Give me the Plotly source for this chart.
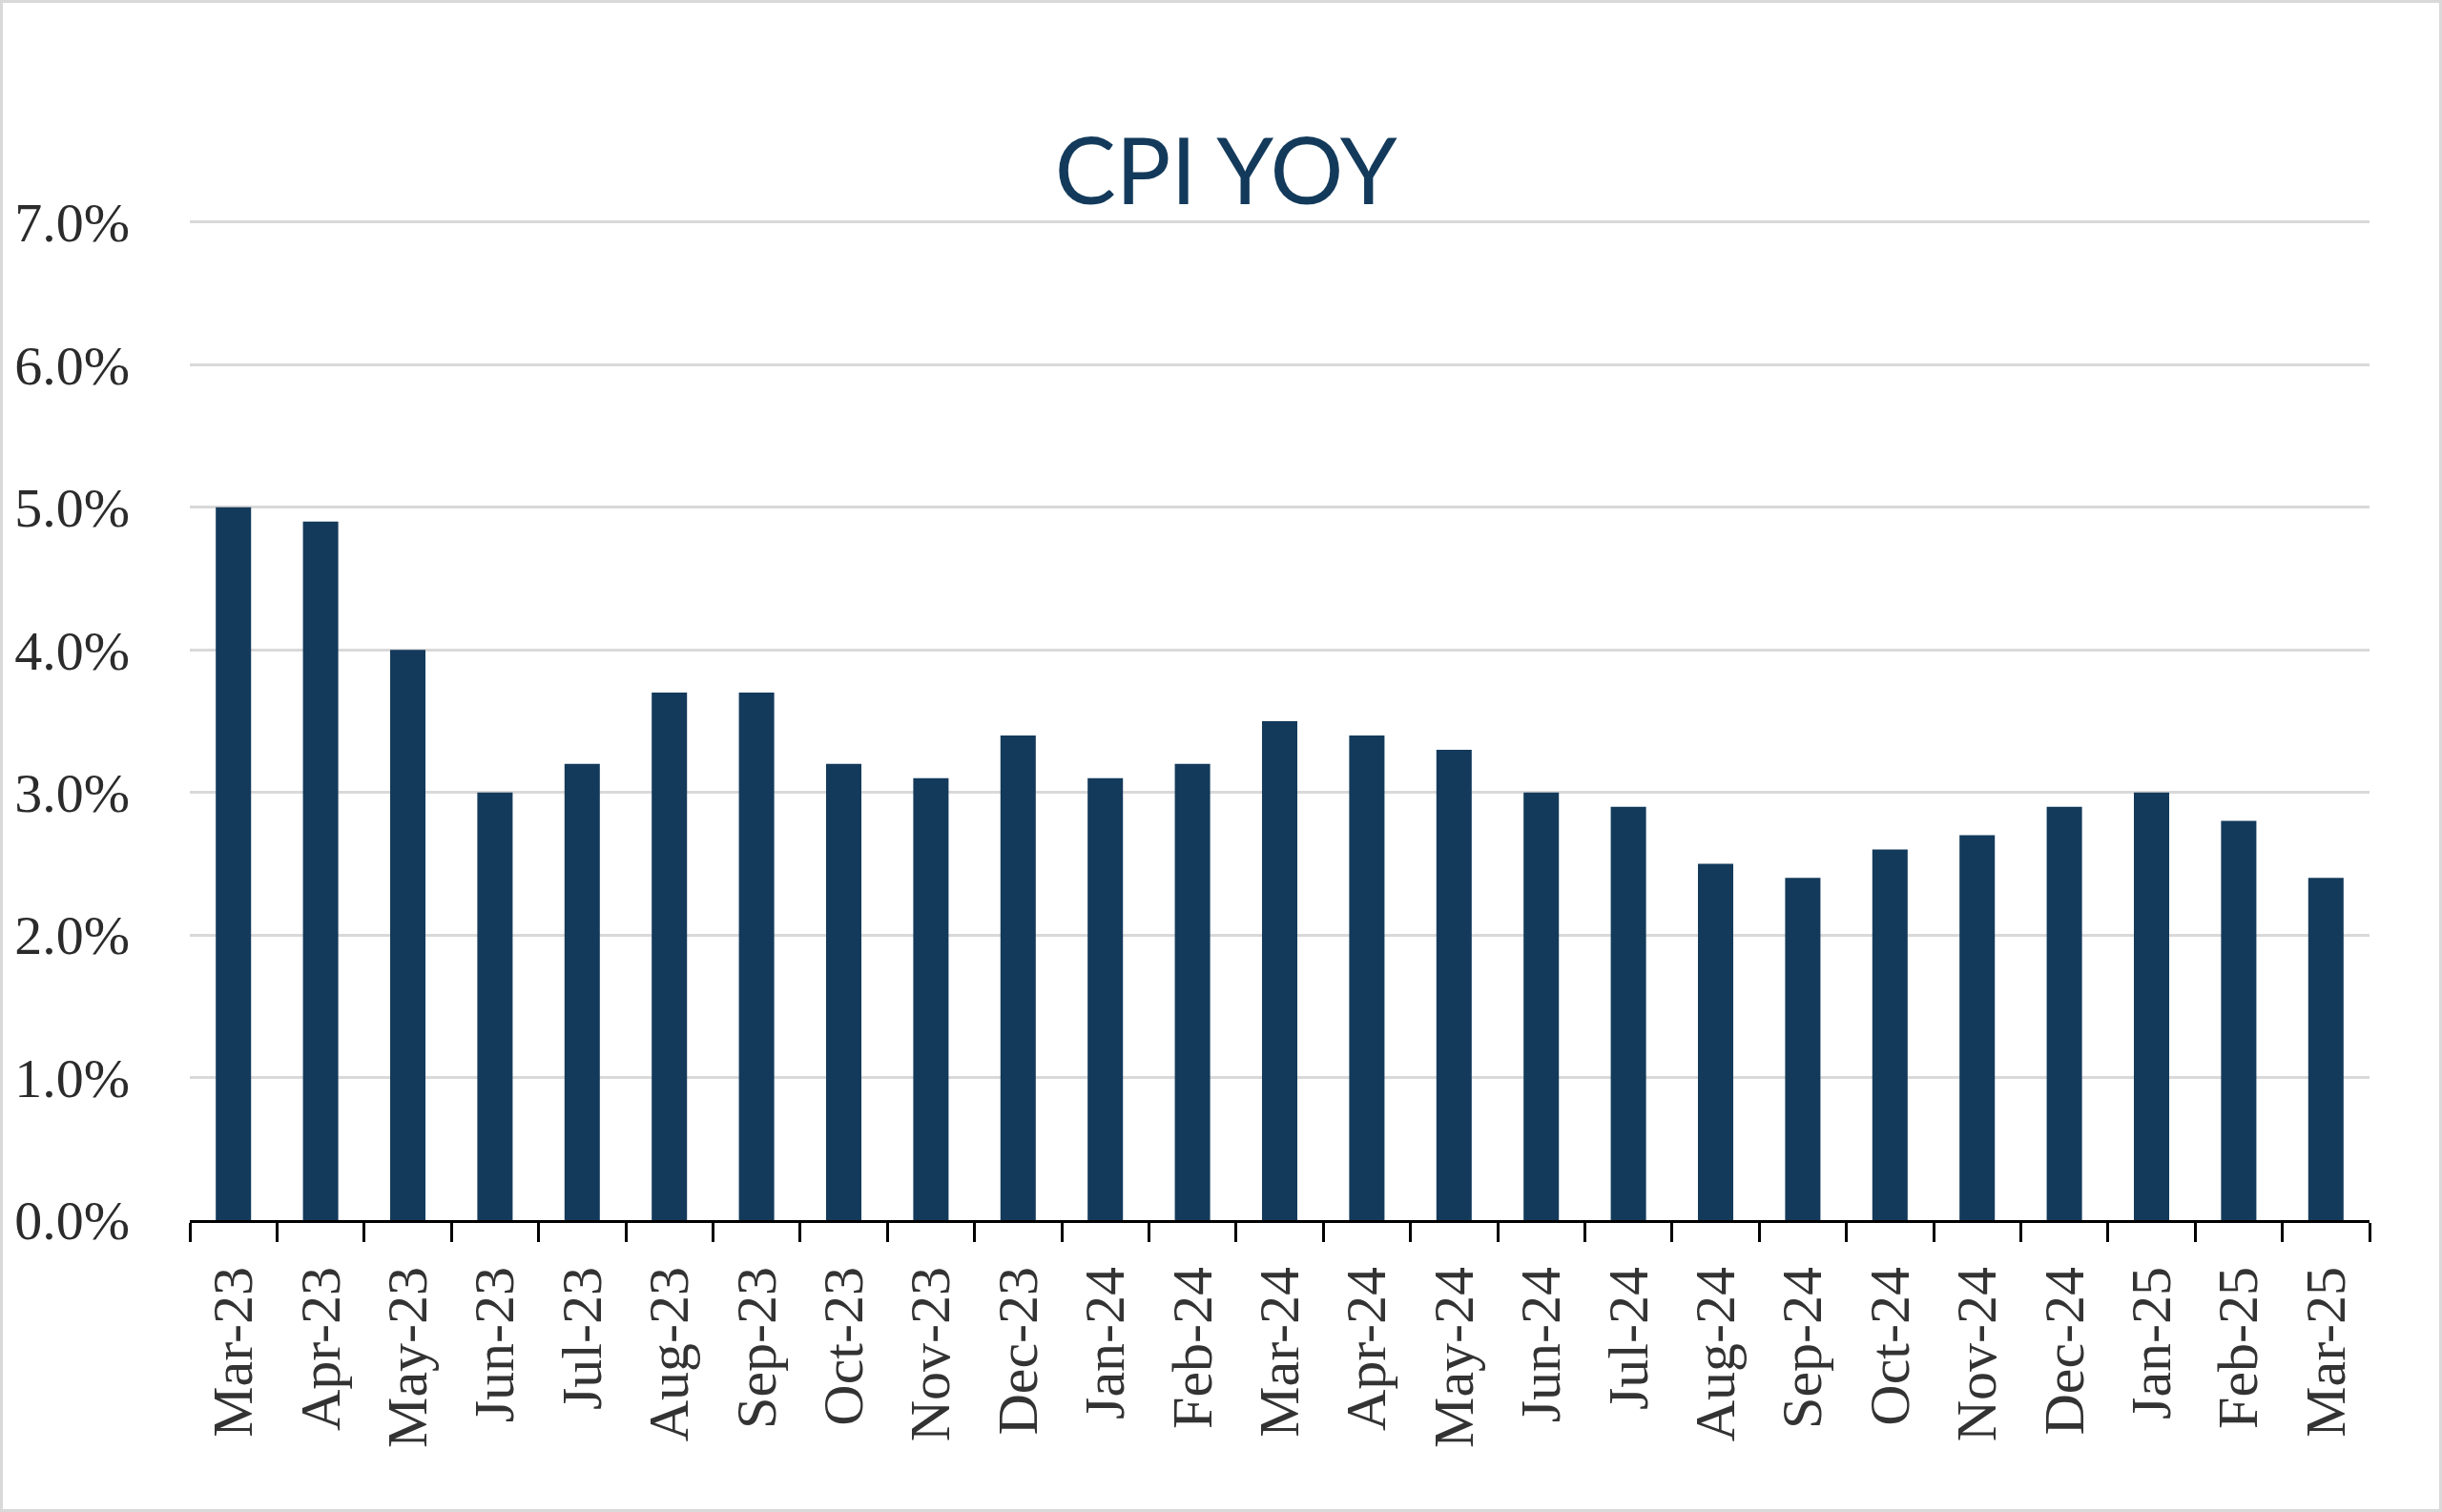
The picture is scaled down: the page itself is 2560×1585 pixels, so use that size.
import plotly.graph_objects as go

months = ["Mar-23", "Apr-23", "May-23", "Jun-23", "Jul-23", "Aug-23", "Sep-23", "Oct-23",
          "Nov-23", "Dec-23", "Jan-24", "Feb-24", "Mar-24", "Apr-24", "May-24", "Jun-24",
          "Jul-24", "Aug-24", "Sep-24", "Oct-24", "Nov-24", "Dec-24", "Jan-25", "Feb-25", "Mar-25"]
cpi_yoy = [5.0, 4.9, 4.0, 3.0, 3.2, 3.7, 3.7, 3.2, 3.1, 3.4, 3.1, 3.2, 3.5, 3.4, 3.3, 3.0,
           2.9, 2.5, 2.4, 2.6, 2.7, 2.9, 3.0, 2.8, 2.4]
y_ticks = [0, 1, 2, 3, 4, 5, 6, 7]
y_tick_labels = ["0.0%", "1.0%", "2.0%", "3.0%", "4.0%", "5.0%", "6.0%", "7.0%"]

W, H = 2560, 1585
ML, MR, MT, MB = 199, 76, 230, 306
PW, PH = W - ML - MR, H - MT - MB

navy = "#133A5B"

fig = go.Figure(go.Bar(x=months, y=cpi_yoy, marker=dict(color=navy, line=dict(width=0)),
                       width=0.405))

fig.update_layout(
    width=W, height=H,
    margin=dict(l=ML, r=MR, t=MT, b=MB),
    paper_bgcolor="white", plot_bgcolor="white",
    showlegend=False,
    title=dict(text="CPI YOY", x=0.502, xanchor="center", xref="container",
               y=1 - 180 / H, yanchor="middle", yref="container",
               font=dict(family="Lato", size=96, color=navy)),
    shapes=[dict(type="rect", xref="paper", yref="paper",
                 x0=(1.5 - ML) / PW, x1=(W - 1.5 - ML) / PW,
                 y0=-(H - 1.5 - MT - PH) / PH, y1=1 + (MT - 1.5) / PH,
                 line=dict(color="#d9d9d9", width=3), layer="below")],
)

fig.update_xaxes(
    type="category", tickson="boundaries", ticks="outside", ticklen=20, tickwidth=3,
    tickcolor="black", showline=True, linecolor="black", linewidth=3,
    tickangle=-90, ticklabelstandoff=22,
    tickfont=dict(family="Liberation Serif", size=60, color="#333333"),
    showgrid=False, zeroline=False,
)
fig.update_yaxes(
    range=[0, 7.02], tickvals=y_ticks, ticktext=y_tick_labels,
    showgrid=True, gridcolor="#d9d9d9", gridwidth=3,
    zeroline=False, showline=False, ticks="",
    ticklabelstandoff=62,
    tickfont=dict(family="Liberation Serif", size=58, color="#2b2b2b"),
)

fig.write_html(
    "out.html",
    config={"displayModeBar": False},
    post_script="document.body.style.margin='0';document.body.style.overflow='hidden';",
)
